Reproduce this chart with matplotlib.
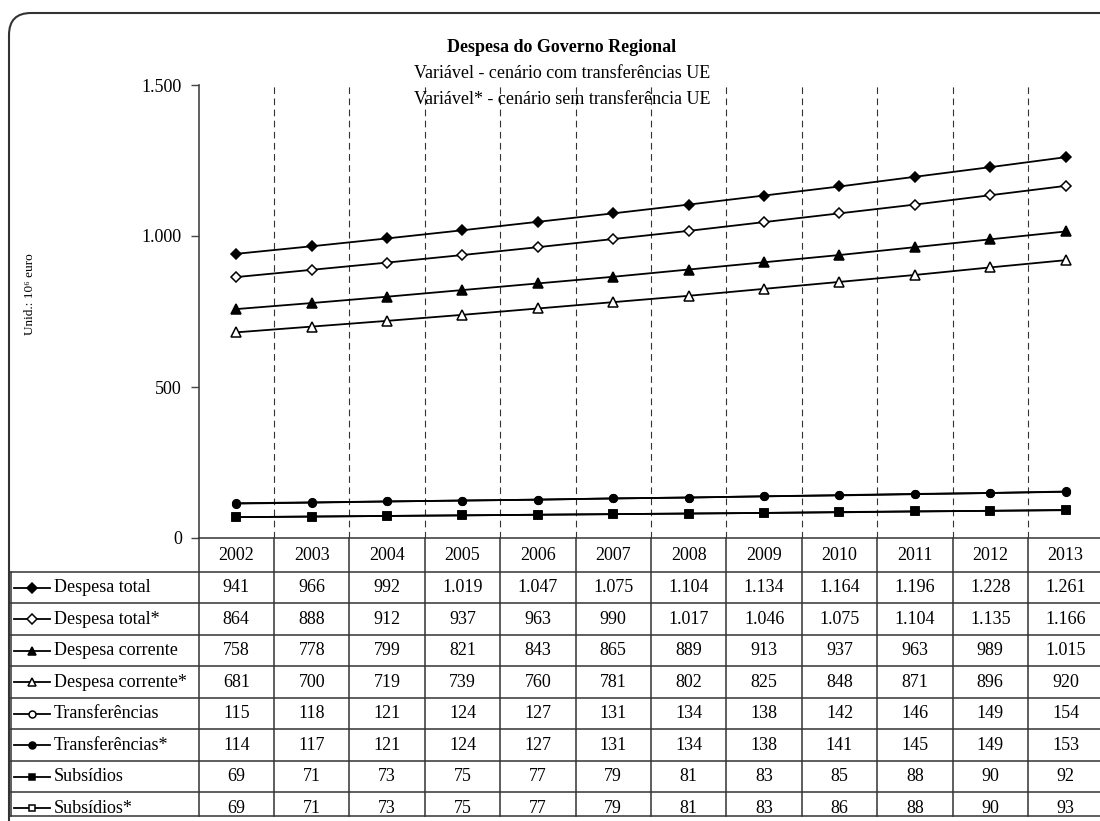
import matplotlib
matplotlib.use("Agg")
import matplotlib.pyplot as plt
from matplotlib.patches import FancyBboxPatch

plt.rcParams['font.family'] = ['Liberation Serif', 'DejaVu Serif']

# Data
years = ["2002", "2003", "2004", "2005", "2006", "2007", "2008", "2009", "2010", "2011", "2012", "2013"]
series_names = ["Despesa total", "Despesa total*", "Despesa corrente", "Despesa corrente*",
                "Transferências", "Transferências*", "Subsídios", "Subsídios*"]
despesa_total = [941, 966, 992, 1019, 1047, 1075, 1104, 1134, 1164, 1196, 1228, 1261]
despesa_total_s = [864, 888, 912, 937, 963, 990, 1017, 1046, 1075, 1104, 1135, 1166]
despesa_corrente = [758, 778, 799, 821, 843, 865, 889, 913, 937, 963, 989, 1015]
despesa_corrente_s = [681, 700, 719, 739, 760, 781, 802, 825, 848, 871, 896, 920]
transferencias = [115, 118, 121, 124, 127, 131, 134, 138, 142, 146, 149, 154]
transferencias_s = [114, 117, 121, 124, 127, 131, 134, 138, 141, 145, 149, 153]
subsidios = [69, 71, 73, 75, 77, 79, 81, 83, 85, 88, 90, 92]
subsidios_s = [69, 71, 73, 75, 77, 79, 81, 83, 86, 88, 90, 93]
series_values = [despesa_total, despesa_total_s, despesa_corrente, despesa_corrente_s,
                 transferencias, transferencias_s, subsidios, subsidios_s]

# marker, face colour, size, zorder
styles = [("D", "black", 5.5, 3), ("D", "white", 5.5, 3),
          ("^", "black", 6.5, 3), ("^", "white", 6.5, 3),
          ("o", "white", 5.5, 3), ("o", "black", 5.5, 4),
          ("s", "black", 5.5, 4), ("s", "white", 5.5, 3)]

W, H = 1100, 821
fig = plt.figure(figsize=(W / 100, H / 100), dpi=100)

# plot area in pixels
x0, col_w = 198.6, 75.4
y_top, y_zero = 85, 538
ncol = len(years)
x1 = x0 + ncol * col_w

ax = fig.add_axes([x0 / W, (H - y_zero) / H, (x1 - x0) / W, (y_zero - y_top) / H])
ax.set_xlim(0, ncol)
ax.set_ylim(0, 1500)
ax.set_yticks([0, 500, 1000, 1500])
ax.set_yticklabels(["0", "500", "1.000", "1.500"], fontsize=13)
ax.set_xticks([])
ax.tick_params(axis="y", direction="out", length=6, width=1, color="#444444", pad=6)
for s in ["top", "right"]:
    ax.spines[s].set_visible(False)
ax.spines["left"].set_color("#444444")
ax.spines["left"].set_linewidth(1.2)
ax.spines["bottom"].set_color("#444444")
ax.spines["bottom"].set_linewidth(1.2)
ax.patch.set_visible(False)

for k in range(1, ncol):
    ax.axvline(k, color="#333333", lw=0.8, linestyle=(0, (6, 4)), zorder=1)

xs = [i + 0.5 for i in range(ncol)]
for vals, (m, fc, ms, z) in zip(series_values, styles):
    ax.plot(xs, vals, color="black", lw=1.3, marker=m, markersize=ms,
            markerfacecolor=fc, markeredgecolor="black", markeredgewidth=1.1, zorder=z)

# overlay in pixel coordinates for frame, titles and data table
ov = fig.add_axes([0, 0, 1, 1])
ov.set_xlim(0, W)
ov.set_ylim(H, 0)
ov.axis("off")
ov.patch.set_visible(False)

frame = FancyBboxPatch((9, 13), 1120, 830, boxstyle="round,pad=0,rounding_size=22",
                       fill=False, edgecolor="#333333", lw=1.5)
ov.add_patch(frame)

ov.text(562, 47, "Despesa do Governo Regional", ha="center", va="center",
        fontsize=13, fontweight="bold")
ov.text(562, 74, "Variável - cenário com transferências UE", ha="center", va="center", fontsize=13)
ov.text(562, 99, "Variável* - cenário sem transferência UE", ha="center", va="center", fontsize=13)
ov.text(30, 294, "Unid.: 10⁶ euro", rotation=90, ha="center", va="center", fontsize=9.5)

# table
row_h = 31.5
hdr_bot = 572
t_left = 11
t_bot = 816
lc = "#333333"
for k in range(ncol + 1):
    xk = x0 + k * col_w
    ov.plot([xk, xk], [y_zero, t_bot], color=lc, lw=1.1)
ov.plot([t_left, t_left], [hdr_bot, t_bot], color=lc, lw=1.1)
for r in range(len(series_names) + 1):
    yr = min(hdr_bot + r * row_h, t_bot)
    ov.plot([t_left, x1], [yr, yr], color=lc, lw=1.1)

for i, yl in enumerate(years):
    ov.text(x0 + (i + 0.5) * col_w, (y_zero + hdr_bot) / 2, yl, ha="center", va="center", fontsize=13)

for r, (name, vals, (m, fc, ms, z)) in enumerate(zip(series_names, series_values, styles)):
    yc = hdr_bot + (r + 0.5) * row_h
    ov.plot([14, 50], [yc, yc], color="black", lw=1.3)
    ov.plot([32], [yc], marker=m, markersize=ms - 0.5, markerfacecolor=fc,
            markeredgecolor="black", markeredgewidth=1.1, color="black")
    ov.text(54, yc, name, ha="left", va="center", fontsize=13)
    for i, v in enumerate(vals):
        ov.text(x0 + (i + 0.5) * col_w, yc, f"{v:,}".replace(",", "."),
                ha="center", va="center", fontsize=13)

fig.savefig("out.png", dpi=100)
